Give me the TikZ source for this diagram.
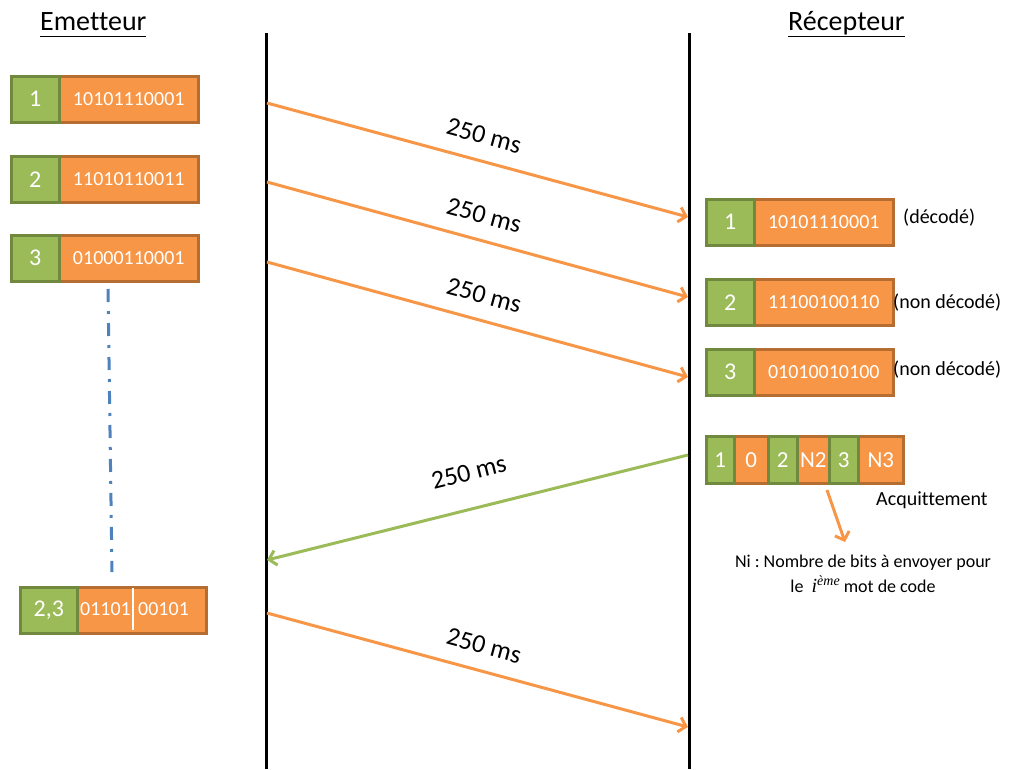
\documentclass[tikz,border=0pt]{standalone}
\usepackage{fontspec}
\setmainfont{Carlito}[RawFeature={-liga;-clig;-calt;-dlig}]
\newfontfamily\mathserif{Liberation Serif}
\usetikzlibrary{arrows.meta}
\definecolor{ora}{HTML}{F79646}
\definecolor{orab}{HTML}{B66D31}
\definecolor{gre}{HTML}{9BBB59}
\definecolor{greb}{HTML}{71893F}
\definecolor{blu}{HTML}{4F81BD}
\frenchspacing
\begin{document}
\begin{tikzpicture}[x=1pt,y=-1pt,
  cell/.style={line width=2.5pt, minimum height=46pt, inner sep=0pt, anchor=north west, text=white},
  gcell/.style={cell, fill=gre, draw=greb, font=\fontsize{24}{28}\selectfont},
  ocell/.style={cell, fill=ora, draw=orab, font=\fontsize{20}{24}\selectfont},
  acell/.style={minimum height=47pt, font=\fontsize{23}{27}\selectfont},
  msg/.style={line width=3pt, -{Straight Barb[length=7pt,width=15pt]}},
  omsg/.style={msg, draw=ora},
  gmsg/.style={msg, draw=gre},
  lbl/.style={font=\fontsize{26}{30}\selectfont, sloped, above=15pt, midway, inner sep=0pt},
  side/.style={font=\fontsize{20}{24}\selectfont, anchor=west, inner sep=0pt},
  title/.style={font=\fontsize{28}{32}\selectfont, anchor=base west, inner sep=0pt},
  life/.style={line width=3pt, draw=black}
]
\useasboundingbox (0,0) rectangle (1009,769);

% titles
\node[title] (temit) at (40,30) {\underline{\vphantom{Rp}Emetteur}};
\node[title] (trecv) at (788,30) {\underline{\vphantom{Rp}Récepteur}};

% lifelines
\coordinate (Lt) at (266,33); \coordinate (Lb) at (266,769);
\coordinate (Rt) at (689,33); \coordinate (Rb) at (689,769);
\draw[life] (Lt) -- (Lb);
\draw[life] (Rt) -- (Rb);

% emitter packets
\node[ocell, minimum width=139pt] (e1o) at (58,75) {10101110001};
\node[gcell, minimum width=48pt] (e1g) at (10,75) {1};
\node[ocell, minimum width=139pt] (e2o) at (58,155) {11010110011};
\node[gcell, minimum width=48pt] (e2g) at (10,155) {2};
\node[ocell, minimum width=139pt] (e3o) at (58,234) {01000110001};
\node[gcell, minimum width=48pt] (e3g) at (10,234) {3};

% dash-dot continuation
\coordinate (d1) at (108,289); \coordinate (d2) at (112,572);
\draw[blu, line width=3pt, dash pattern=on 13pt off 9pt on 3pt off 9pt] (d1) -- (d2);

% retransmitted packet
\node[ocell, minimum width=129pt, text=ora] (e4o) at (76,586) {~};
\node[gcell, minimum width=57pt] (e4g) at (19,586) {2,3};
\coordinate (sepT) at (133,588); \coordinate (sepB) at (133,630);
\draw[white, line width=2.5pt] (sepT) -- (sepB);
\node[font=\fontsize{20}{24}\selectfont, text=white, anchor=east, inner sep=0pt] (e4a) at (131,609) {01101};
\node[font=\fontsize{20}{24}\selectfont, text=white, anchor=west, inner sep=0pt] (e4b) at (138,609) {00101};

% receiver packets
\node[ocell, minimum width=139pt] (r1o) at (753,198) {10101110001};
\node[gcell, minimum width=48pt] (r1g) at (705,198) {1};
\node[ocell, minimum width=139pt] (r2o) at (753,278) {11100100110};
\node[gcell, minimum width=48pt] (r2g) at (705,278) {2};
\node[ocell, minimum width=139pt] (r3o) at (753,348) {01010010100};
\node[gcell, minimum width=48pt] (r3g) at (705,348) {3};
\node[side] (l1) at (903,218) {(décodé)};
\node[side] (l2) at (893,303) {(non décodé)};
\node[side] (l3) at (893,370) {(non décodé)};

% acknowledgement
\node[ocell, acell, minimum width=34pt] (a2) at (733,435) {0};
\node[ocell, acell, minimum width=32pt] (a4) at (796,435) {N2};
\node[ocell, acell, minimum width=45pt] (a6) at (857,435) {N3};
\node[gcell, acell, minimum width=28pt] (a1) at (705,435) {1};
\node[gcell, acell, minimum width=29pt] (a3) at (767,435) {2};
\node[gcell, acell, minimum width=29pt] (a5) at (828,435) {3};
\node[side] (ack) at (876,500) {Acquittement};
\coordinate (n1) at (827,490); \coordinate (n2) at (845,542);
\draw[omsg] (n1) -- (n2);
\node[font=\fontsize{18}{25}\selectfont, align=center, inner sep=0pt] (ni) at (863,574)
  {Ni : Nombre de bits à envoyer pour\\le~~{\mathserif\itshape\fontsize{20}{20}\selectfont i}\raisebox{7pt}{\mathserif\itshape\fontsize{14}{14}\selectfont ème} mot de code};

% messages
\coordinate (s1) at (267,103); \coordinate (r1) at (688,217);
\coordinate (s2) at (267,182); \coordinate (r2) at (688,297);
\coordinate (s3) at (267,262); \coordinate (r3) at (688,377);
\coordinate (ra) at (688,455); \coordinate (sa) at (267,560);
\coordinate (s4) at (267,613); \coordinate (r4) at (688,727);
\draw[omsg] (s1) -- node[lbl] (m1) {250 ms} (r1);
\draw[omsg] (s2) -- node[lbl] (m2) {250 ms} (r2);
\draw[omsg] (s3) -- node[lbl] (m3) {250 ms} (r3);
\draw[gmsg] (ra) -- node[lbl, above=11pt] (ma) {250 ms} (sa);
\draw[omsg] (s4) -- node[lbl] (m4) {250 ms} (r4);
\end{tikzpicture}
\end{document}
